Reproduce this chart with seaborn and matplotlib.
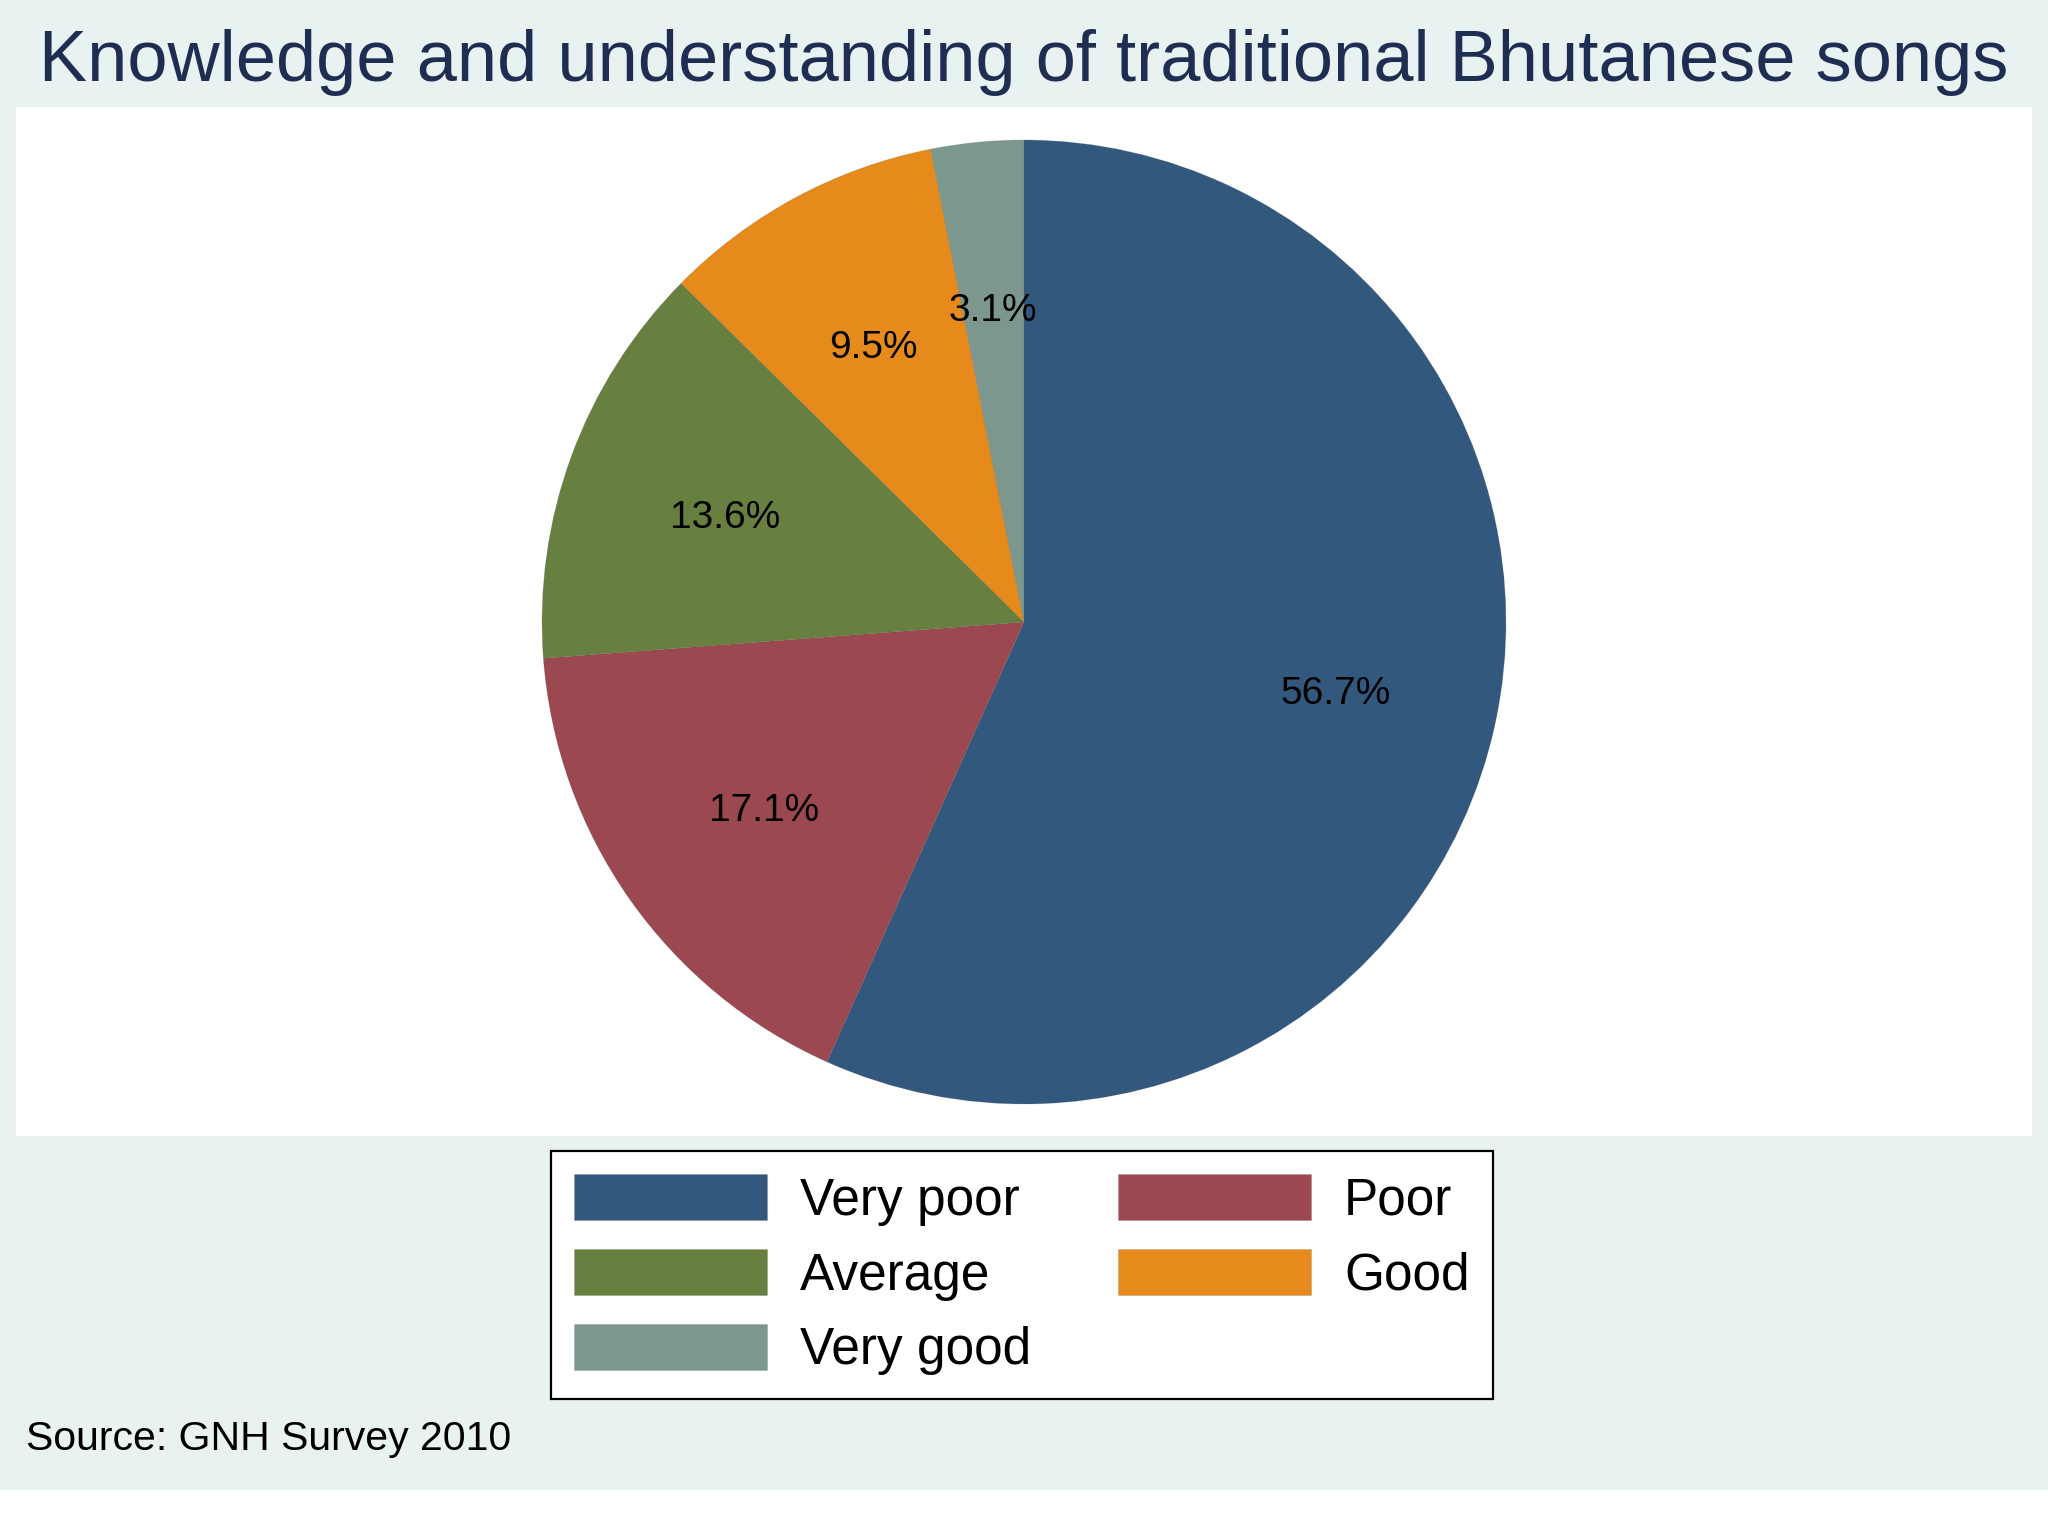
import matplotlib
matplotlib.use("Agg")
import matplotlib.pyplot as plt
from matplotlib.patches import Rectangle
import seaborn as sns

# Knowledge of traditional Bhutanese songs (GNH Survey 2010)
categories = ["Very poor", "Poor", "Average", "Good", "Very good"]
shares = [56.7, 17.1, 13.6, 9.5, 3.1]
slice_colors = ["#33587d", "#9b4850", "#67803f", "#e58a1b", "#7c978d"]

sns.set_theme(style="white")
plt.rcParams["font.family"] = ["Liberation Sans", "DejaVu Sans"]
plt.rcParams["text.color"] = "black"

fig = plt.figure(figsize=(20.48, 15.36), dpi=100)
fig.patch.set_facecolor("white")

# light background band and white plot region
fig.patches.append(Rectangle((0, 46 / 1536), 1, 1 - 46 / 1536, transform=fig.transFigure,
                             facecolor="#e8f2f1", edgecolor="none", zorder=-2))
fig.patches.append(Rectangle((16 / 2048, 1 - 1136 / 1536), (2032 - 16) / 2048, (1136 - 107) / 1536,
                             transform=fig.transFigure, facecolor="white", edgecolor="none", zorder=-1))

ax = fig.add_axes([0.2058, 0.2028, 0.5884, 0.7845])
palette = sns.color_palette(slice_colors)
wedges, texts, autotexts = ax.pie(shares, colors=palette, startangle=90, counterclock=False,
                                  autopct="%1.1f%%", pctdistance=0.66,
                                  wedgeprops=dict(linewidth=0.6, edgecolor="#55555533"),
                                  textprops=dict(fontsize=28, color="black"))
# labels sit a touch lower in the original
for t in autotexts:
    x, y = t.get_position()
    t.set_position((x, y - 0.012))
ax.set_xlim(-1.25, 1.25)
ax.set_ylim(-1.25, 1.25)

fig.text(0.5, 0.959, "Knowledge and understanding of traditional Bhutanese songs",
         ha="center", va="center", fontsize=52, color="#1f2d52")
fig.text(0.0127, 0.0632, "Source: GNH Survey 2010", ha="left", va="center", fontsize=29.5, color="black")

order = [0, 2, 4, 1, 3]
leg = fig.legend([wedges[i] for i in order], [categories[i] for i in order],
                 loc="center", bbox_to_anchor=(0.499, 0.170), ncol=2, fontsize=37,
                 frameon=True, fancybox=False, edgecolor="black", framealpha=1,
                 handlelength=3.75, handleheight=1.0, handletextpad=0.64,
                 columnspacing=1.7, labelspacing=0.45, borderpad=0.45,
                 labelcolor="black")
leg.get_frame().set_linewidth(1.6)

fig.savefig("out.png", dpi=100)
